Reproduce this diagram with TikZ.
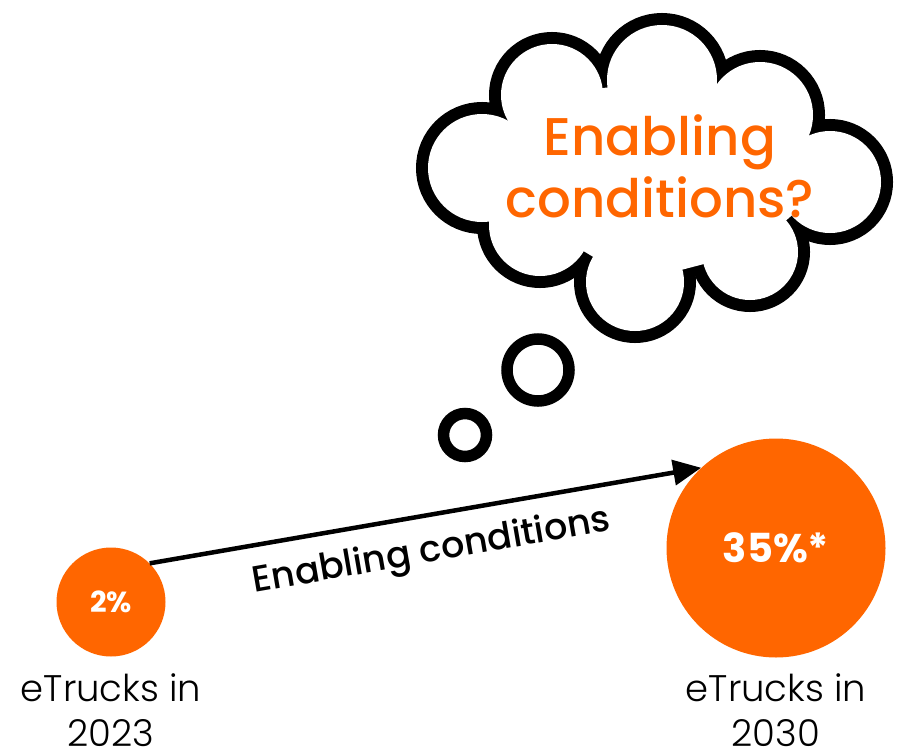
\documentclass[tikz,border=0pt]{standalone}
\usepackage{fontspec}
\setmainfont{Poppins}
% lighter and heavier cuts where the system has them
\IfFontExistsTF{Poppins Light}{\newfontfamily\thinfont{Poppins Light}}{%
  \IfFontExistsTF{Poppins-Light}{\newfontfamily\thinfont{Poppins-Light}}{\newfontfamily\thinfont{Poppins}}}
\IfFontExistsTF{Poppins Medium}{\newfontfamily\midfont{Poppins Medium}}{%
  \IfFontExistsTF{Poppins-Medium}{\newfontfamily\midfont{Poppins-Medium}}{\newfontfamily\midfont{Poppins}}}
\usetikzlibrary{arrows.meta}
\definecolor{truckorange}{RGB}{255,102,0}

\tikzset{
  share/.style={circle, fill=truckorange, text=white, inner sep=0pt, font=\bfseries},
  yearlabel/.style={align=center, anchor=base, font=\thinfont\fontsize{37}{45}\selectfont},
  bubble/.style={draw, line width=11.5pt}
}

\begin{document}
\begin{tikzpicture}[x=1pt,y=-1pt]
\useasboundingbox (0,0) rectangle (899,755);
%% cloud: wide rims, then white discs over them
\foreach \cx/\cy/\r in {662/80/55, 552/95/51, 482/168/54, 540/225/51, 635/282/49, 750/252/48, 830/182/51, 760/115/53}
  \draw[line width=24pt] (\cx,\cy) circle (\r pt);
\fill[white] (552,95) -- (662,80) -- (760,115) -- (830,182) -- (750,252) -- (635,282) -- (540,225) -- (482,168) -- cycle;
\foreach \cx/\cy/\r in {662/80/55, 552/95/51, 482/168/54, 540/225/51, 635/282/49, 750/252/48, 830/182/51, 760/115/53}
  \fill[white] (\cx,\cy) circle (\r pt);
\node[align=center, text=truckorange, font=\midfont\fontsize{53}{62}\selectfont] (question) at (660,166) {Enabling\\conditions?};
%% thought bubbles
\draw[bubble] (538,370) circle (31pt); %%Big
\draw[bubble] (465,435) circle (21.5pt); %%Small
%% shares
\node[share, minimum size=109pt, font=\bfseries\fontsize{29}{32}\selectfont] (now) at (111,602) {2\%};
\node[share, minimum size=219pt, font=\bfseries\fontsize{40}{44}\selectfont] (goal) at (776,548) {35\%*};
\node[yearlabel] (nowlabel) at (111,746) {eTrucks in\\2023};
\node[yearlabel] (goallabel) at (776,746) {eTrucks in\\2030};
%% growth arrow
\draw[line width=4.5pt, -{Triangle[length=28pt,width=25pt]}] (now.45) -- (goal.133)
  node[midway, sloped, below=13pt, font=\midfont\fontsize{36.5}{40}\selectfont] (path) {Enabling conditions};
\end{tikzpicture}
\end{document}
